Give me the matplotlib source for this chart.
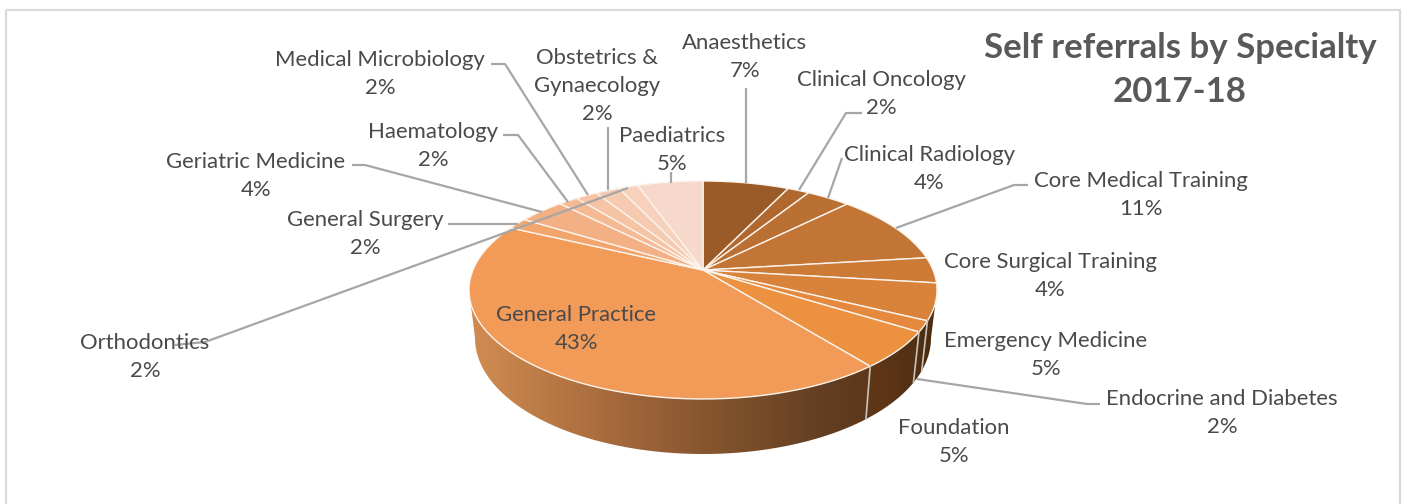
import numpy as np
import matplotlib
matplotlib.use('Agg')
import matplotlib.pyplot as plt
from matplotlib.colors import LinearSegmentedColormap
from matplotlib.patches import Polygon, Rectangle

plt.rcParams['font.family'] = ['Lato', 'DejaVu Sans']

# Data
specialties = ['Anaesthetics', 'Clinical Oncology', 'Clinical Radiology', 'Core Medical Training',
               'Core Surgical Training', 'Emergency Medicine', 'Endocrine and Diabetes', 'Foundation',
               'General Practice', 'General Surgery', 'Geriatric Medicine', 'Haematology',
               'Medical Microbiology', 'Obstetrics &\nGynaecology', 'Orthodontics', 'Paediatrics']
shares = [7.1, 1.8, 3.6, 10.6, 3.8, 5.4, 1.6, 5.4, 42.8, 1.7, 3.8, 1.6, 1.8, 2.0, 1.6, 5.4]

colors = ['#9A5B28', '#B0682E', '#BA7033', '#C27534', '#CC7B37', '#D9823A', '#E4893D', '#EC9140',
          '#F29A58', '#F2A56D', '#F4B085', '#F5B994', '#F6C3A5', '#F6CAB0', '#F7D1BC', '#F7D9CC']

# Label centres in pixels
label_x = [745, 881, 929, 1141, 1050, 1046, 1222, 954, 576, 365, 256, 433, 380, 597, 145, 672]
label_y = [57, 94, 169, 195, 276, 355, 413, 442, 329, 234, 176, 146, 74, 86, 357, 150]

# Leader lines in pixels, one per label that has one
leaders = [
    [(746, 88), (746, 183)],
    [(862, 113), (846, 113), (799, 190)],
    [(842, 158), (828, 198)],
    [(1028, 185), (1014, 185), (896, 228)],
    [(1100, 404), (1087, 404), (917, 379)],
    [(448, 224), (462, 224), (518, 224)],
    [(352, 165), (365, 165), (542, 212)],
    [(503, 135), (518, 135), (568, 202)],
    [(491, 64), (505, 64), (588, 195)],
    [(608, 127), (608, 190)],
    [(175, 345), (205, 342), (628, 188)],
    [(671, 172), (671, 183)],
]

# Pie geometry in pixels: top face, floor of the wall, perspective shift of the centre
top_c = (703, 290)
top_r = (234, 109)
floor_c = (703, 338)
floor_r = (228, 116)
shift = 0.183


def project(theta, centre, radius):
    # clockwise from 12 o'clock, tilted so the near side looks bigger
    u, v = np.sin(theta), np.cos(theta)
    d = 1 + shift * v
    px = np.sqrt(1 - shift ** 2) * u / d
    py = (v + shift) / d
    return centre[0] + radius[0] * px, centre[1] - radius[1] * py


fig = plt.figure(figsize=(14.07, 5.04), dpi=100)
ax = fig.add_axes([0, 0, 1, 1])

# Frame
ax.add_patch(Rectangle((6, 10), 1394, 520, fill=False, edgecolor='#D9D9D9', linewidth=1.6))

# Side wall with the gradient
t = np.linspace(0, np.pi, 200)
top_edge = np.column_stack([top_c[0] - top_r[0] * np.cos(t), top_c[1] + top_r[1] * np.sin(t)])
floor_edge = np.column_stack([floor_c[0] + floor_r[0] * np.cos(t), floor_c[1] + floor_r[1] * np.sin(t)])
wall = Polygon(np.vstack([top_edge, floor_edge]), closed=True, facecolor='none', edgecolor='none')
ax.add_patch(wall)
wall_cmap = LinearSegmentedColormap.from_list(
    'wall', [(0, '#D28C52'), (0.12, '#C07F48'), (0.34, '#A0653A'), (0.55, '#80522C'),
             (0.76, '#633E22'), (0.88, '#5E3617'), (1, '#4A2C10')])
img = ax.imshow(np.linspace(0, 1, 256).reshape(1, -1), cmap=wall_cmap, aspect='auto',
                extent=(470, 937, 465, 280), zorder=1)
img.set_clip_path(wall)

# Slices
edges = np.concatenate([[0], np.cumsum(shares)]) / np.sum(shares) * 2 * np.pi
apex = (top_c[0], top_c[1] - top_r[1] * shift)
for i in range(len(shares)):
    th = np.linspace(edges[i], edges[i + 1], 60)
    x, y = project(th, top_c, top_r)
    pts = np.vstack([[apex], np.column_stack([x, y])])
    ax.add_patch(Polygon(pts, closed=True, facecolor=colors[i], edgecolor='#FBF3EC',
                         linewidth=1.0, zorder=2))

# Slice edges running down the wall
for e in edges[1:]:
    x0, y0 = project(e, top_c, top_r)
    x1, y1 = project(e, floor_c, floor_r)
    if np.cos(e) < 0 and y0 > top_c[1]:
        ax.plot([x0, x1], [y0, y1], color='#C9C4BE', linewidth=1.2, zorder=2)

# Leader lines
for line in leaders:
    xs, ys = zip(*line)
    ax.plot(xs, ys, color='#A6A6A6', linewidth=1.6, zorder=3, solid_capstyle='butt')

# Labels
for name, share, lx, ly in zip(specialties, shares, label_x, label_y):
    ax.text(lx, ly, f'{name}\n{round(share)}%', ha='center', va='center', fontsize=15.9,
            color='#4A4A4A', linespacing=1.5, zorder=4)

ax.text(1180, 70, 'Self referrals by Specialty\n2017-18', ha='center', va='center', fontsize=25,
        fontweight='bold', color='#595959', linespacing=1.5, zorder=4)

ax.set_xlim(0, 1407)
ax.set_ylim(504, 0)
ax.axis('off')
fig.savefig('out.png', dpi=100)
